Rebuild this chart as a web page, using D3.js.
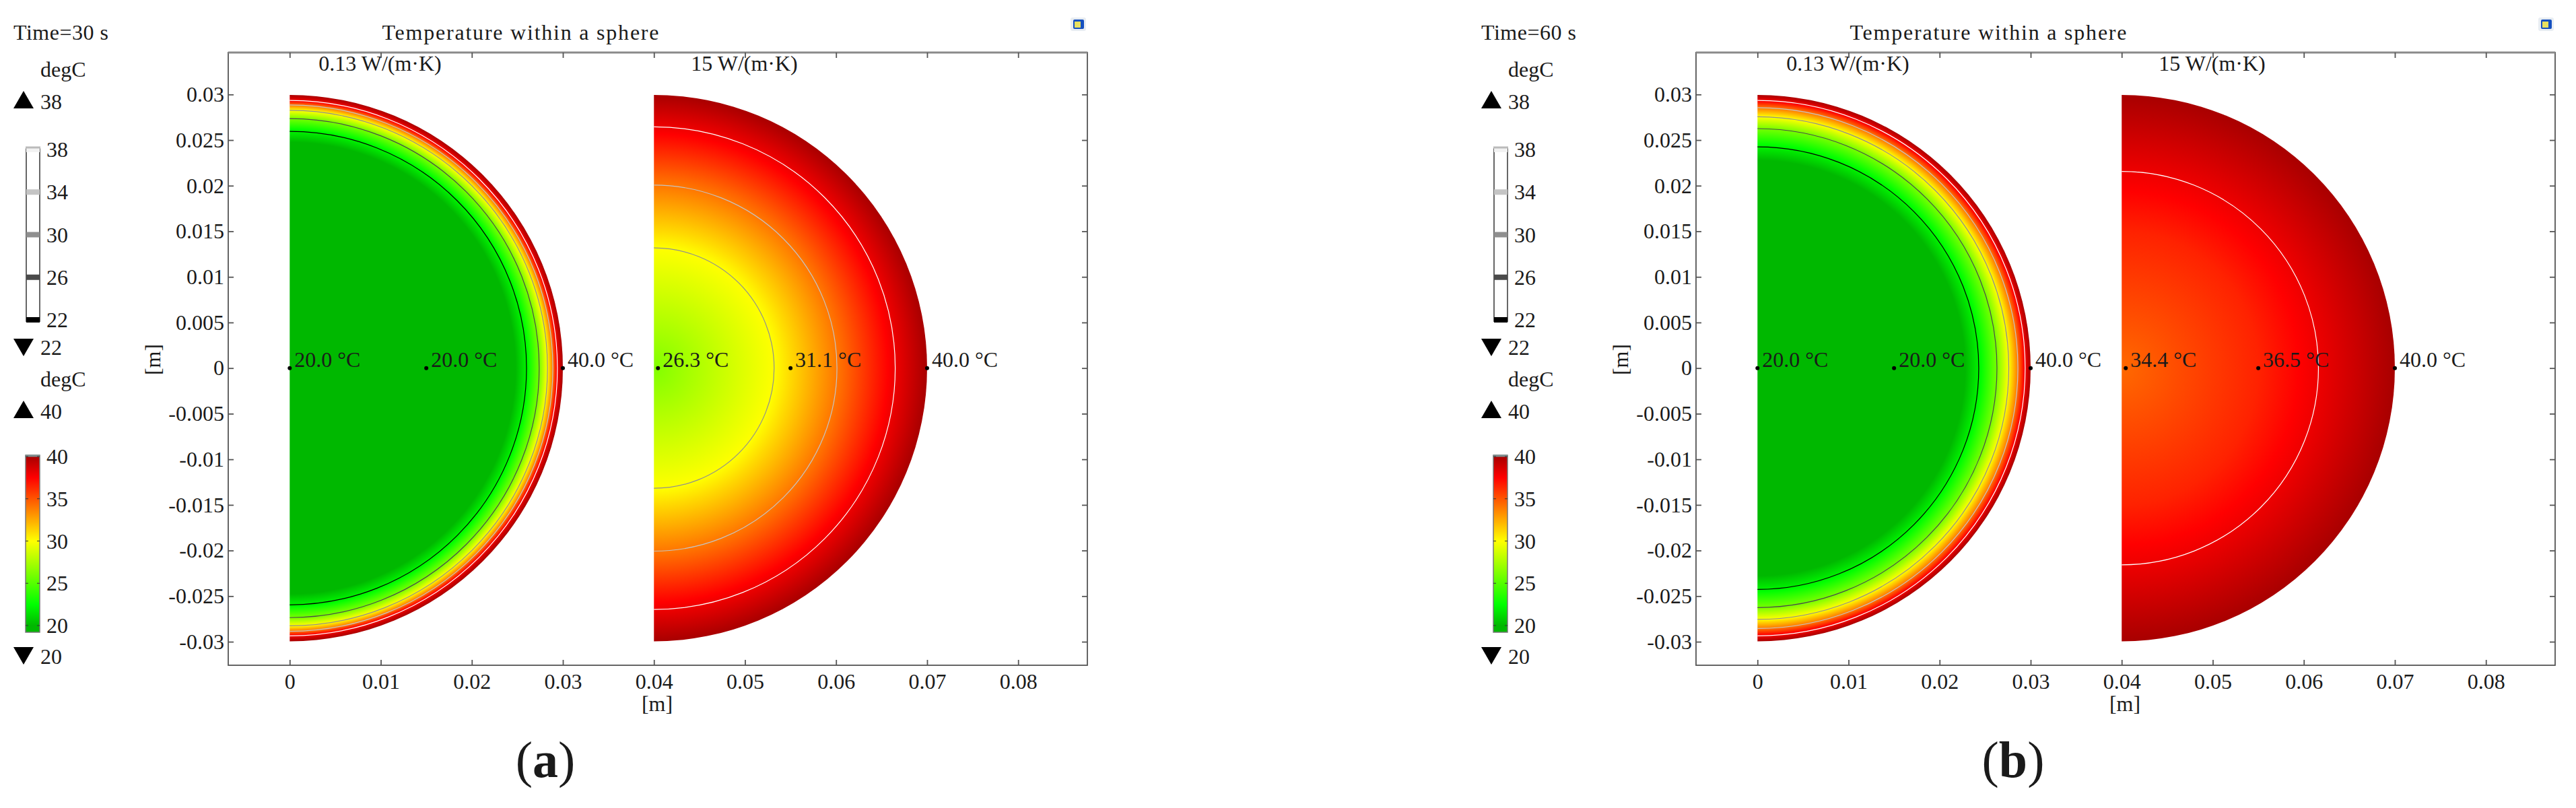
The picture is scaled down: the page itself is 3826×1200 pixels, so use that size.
<!DOCTYPE html>
<html><head><meta charset="utf-8">
<script src="https://cdn.jsdelivr.net/npm/d3@7/dist/d3.min.js"></script>
<style>html,body{margin:0;background:#fff}text{font-family:"Liberation Serif",serif;fill:#1a1a1a}</style>
</head><body><svg id="c" width="3826" height="1200"></svg>
<script>
// ---- data ----
const xTicks = [0,0.01,0.02,0.03,0.04,0.05,0.06,0.07,0.08];
const yTicks = [-0.03,-0.025,-0.02,-0.015,-0.01,-0.005,0,0.005,0.01,0.015,0.02,0.025,0.03];
const panelNames = ["a","b"];
const panelTimes = ["Time=30 s","Time=60 s"];
const materialLabels = ["0.13 W/(m·K)","15 W/(m·K)"];
const sphereCentres = [0,0.04];
const sphereRadius = 0.03;
const contourLevels = [22,26,30,34,38];
const contourColours = ["#000000","#4a4a4a","#8f8f8f","#c4c4c4","#ffffff"];
const colourLevels = [20,22.5,30,37.5,40];
const colourValues = ["#00b800","#00ff00","#ffff00","#ff0000","#a80000"];
const colourbarTicks = [20,25,30,35,40];
const probeRadii = [0,0.015,0.03];
const probeLabels = [
  [["20.0 °C","20.0 °C","40.0 °C"],["26.3 °C","31.1 °C","40.0 °C"]],
  [["20.0 °C","20.0 °C","40.0 °C"],["34.4 °C","36.5 °C","40.0 °C"]]];
// radial temperature profiles [radius, temperature]
const profileA1 = [[0,20],[0.0248,20],[0.0260,22],[0.0274,26],[0.0283,30],[0.0289,34],[0.0294,38],[0.03,40]];
const profileA2 = [[0,26.3],[0.0132,30],[0.015,31.1],[0.0201,34],[0.0265,38],[0.03,40]];
const profileB1 = [[0,20],[0.0228,20],[0.0243,22],[0.0263,26],[0.0276,30],[0.0286,34],[0.0294,38],[0.03,40]];
const profileB2 = [[0,34.4],[0.015,36.5],[0.0216,38],[0.03,40]];
const profiles = [[profileA1,profileA2],[profileB1,profileB2]];

// ---- layout ----
const svg = d3.select("#c");
const defs = svg.append("defs");
const FS = 32, L = 339, R = 1615, T = 78, B = 988, PANEL_DX = 2180;
const x = d3.scaleLinear().domain([-0.00675,0.0876]).range([L,R]);
const y = d3.scaleLinear().domain([0.0346,-0.03258]).range([T,B]);
const pxPerM = x(1)-x(0);
const colour = d3.scaleLinear().domain(colourLevels).range(colourValues).interpolate(d3.interpolateRgb);
const fmt = d => d===0 ? "0" : String(d);

function triangle(g,cx,cyTop,up){
  const w=15,h=26;
  g.append("path").attr("d", up
    ? `M${cx-w},${cyTop+h}L${cx+w},${cyTop+h}L${cx},${cyTop}Z`
    : `M${cx-w},${cyTop}L${cx+w},${cyTop}L${cx},${cyTop+h}Z`).attr("fill","#000");
}
function txt(g,s,xp,yp,anchor,size){
  return g.append("text").attr("x",xp).attr("y",yp).attr("text-anchor",anchor||"start")
    .attr("font-size",size||FS).text(s);
}

panelNames.forEach((name,pi)=>{
  const g = svg.append("g").attr("transform",`translate(${pi*PANEL_DX},0)`);
  txt(g,panelTimes[pi],20,59).attr("textLength",141);
  txt(g,"Temperature within a sphere",773,59,"middle").attr("textLength",411);

  // contour legend
  txt(g,"degC",60,114);
  triangle(g,35,135,true);  txt(g,"38",60,162);
  const lg = d3.scaleLinear().domain([22,38]).range([475,222]);
  g.append("rect").attr("x",39).attr("y",219).attr("width",20).attr("height",258)
    .attr("fill","#fff").attr("stroke","#666").attr("stroke-width",2);
  contourLevels.forEach((v,i)=>{
    g.append("rect").attr("x",39).attr("width",20).attr("y",lg(v)-4).attr("height",8)
      .attr("fill",contourColours[i]==="#ffffff"?"#f2f2f2":contourColours[i]);
    txt(g,v,69,lg(v)+11);
  });
  g.append("rect").attr("x",38).attr("y",217.5).attr("width",22).attr("height",3).attr("fill","#bbb");
  triangle(g,35,503,false); txt(g,"22",60,527);

  // colour legend
  txt(g,"degC",60,574);
  triangle(g,35,595,true);  txt(g,"40",60,622);
  const cb = d3.scaleLinear().domain([20,40]).range([929,678]);
  const gid = "cb"+pi;
  const lgd = defs.append("linearGradient").attr("id",gid).attr("gradientUnits","userSpaceOnUse")
    .attr("x1",0).attr("x2",0).attr("y1",cb(20)).attr("y2",cb(40));
  colourLevels.forEach((v,i)=>lgd.append("stop").attr("offset",(v-20)/20).attr("stop-color",colourValues[i]));
  g.append("rect").attr("x",38).attr("y",676).attr("width",21).attr("height",263).attr("fill",`url(#${gid})`)
    .attr("stroke","#777").attr("stroke-width",1.5);
  g.append("rect").attr("x",38).attr("y",675.5).attr("width",21).attr("height",3).attr("fill","#7f8f8f");
  colourbarTicks.forEach(v=>{
    g.append("line").attr("x1",38).attr("x2",42).attr("y1",cb(v)).attr("y2",cb(v)).attr("stroke","#333");
    g.append("line").attr("x1",55).attr("x2",59).attr("y1",cb(v)).attr("y2",cb(v)).attr("stroke","#333");
    txt(g,v,69,cb(v)+11);
  });
  triangle(g,35,961,false); txt(g,"20",60,986);

  // spheres
  sphereCentres.forEach((c,si)=>{
    const prof = profiles[pi][si];
    const cx = x(c), cy = y(0), Rpx = sphereRadius*pxPerM;
    const tMin = prof[0][1];
    const usable = tMin===20 ? prof.slice(1) : prof;
    const invert = d3.scaleLinear().domain(usable.map(d=>d[1])).range(usable.map(d=>d[0]));
    const stops = prof.map(d=>({r:d[0],t:d[1]}));
    colourLevels.filter(v=>v>tMin && v<40).forEach(v=>stops.push({r:invert(v),t:v}));
    stops.sort((a,b)=>a.r-b.r);
    const id=`s${pi}${si}`;
    const rg = defs.append("radialGradient").attr("id",id).attr("gradientUnits","userSpaceOnUse")
      .attr("cx",0).attr("cy",0).attr("r",Rpx);
    stops.forEach(s=>rg.append("stop").attr("offset",s.r/sphereRadius).attr("stop-color",colour(s.t)));
    const arc = d3.arc().innerRadius(0).startAngle(0).endAngle(Math.PI);
    g.append("path").attr("transform",`translate(${cx},${cy})`)
      .attr("d",arc({outerRadius:Rpx})).attr("fill",`url(#${id})`);
    contourLevels.forEach((lvl,i)=>{
      if(lvl<=tMin) return;
      const r = prof.find(d=>d[1]===lvl)[0]*pxPerM;
      g.append("path").attr("transform",`translate(${cx},${cy})`)
        .attr("d",d3.arc().innerRadius(r).outerRadius(r).startAngle(0).endAngle(Math.PI)())
        .attr("fill","none").attr("stroke",contourColours[i]).attr("stroke-width",1.2);
    });
    probeRadii.forEach((pr,k)=>{
      const px = x(c+pr);
      g.append("circle").attr("cx",px+(k===0&&si===1?6:0)).attr("cy",cy).attr("r",3).attr("fill","#000");
      txt(g,probeLabels[pi][si][k],px+(k===0&&si===1?13:7),cy-2).attr("fill","#111");
    });
    txt(g,materialLabels[si],si===0?564.5:1105.5,105,"middle");
  });

  // frame + ticks
  const axG = g.append("g");
  const axCol="#555";
  axG.append("rect").attr("x",L).attr("y",T).attr("width",R-L).attr("height",B-T)
    .attr("fill","none").attr("stroke",axCol).attr("stroke-width",1.8);
  axG.append("line").attr("x1",L).attr("x2",R).attr("y1",T).attr("y2",T).attr("stroke","#8a8a8a").attr("stroke-width",3);
  const bottom = d3.axisBottom(x).tickValues(xTicks).tickFormat(fmt).tickSizeInner(-8).tickSizeOuter(0).tickPadding(12);
  const left = d3.axisLeft(y).tickValues(yTicks).tickFormat(fmt).tickSizeInner(-8).tickSizeOuter(0).tickPadding(6);
  const top = d3.axisTop(x).tickValues(xTicks).tickFormat("").tickSizeInner(-8).tickSizeOuter(0);
  const right = d3.axisRight(y).tickValues(yTicks).tickFormat("").tickSizeInner(-8).tickSizeOuter(0);
  [[bottom,`translate(0,${B})`],[left,`translate(${L},0)`],[top,`translate(0,${T})`],[right,`translate(${R},0)`]].forEach(([a,t])=>{
    const ag = axG.append("g").attr("transform",t).call(a);
    ag.select(".domain").remove();
    ag.selectAll("line").attr("stroke",axCol).attr("stroke-width",1.8);
    ag.selectAll("text").attr("font-size",FS).attr("font-family","Liberation Serif").attr("fill","#1a1a1a");
  });
  txt(g,"[m]",976,1056,"middle");
  g.append("text").attr("transform","translate(238,534) rotate(-90)").attr("text-anchor","middle").attr("font-size",FS).text("[m]");

  // panel letter
  const pl = g.append("text").attr("x",810).attr("y",1154).attr("text-anchor","middle").attr("font-size",76);
  pl.append("tspan").text("(");
  pl.append("tspan").attr("font-weight","bold").text(name);
  pl.append("tspan").text(")");

  // toolbar icon
  g.append("rect").attr("x",1590).attr("y",26).attr("width",23).attr("height",20).attr("rx",3).attr("fill","#e8edf2");
  g.append("rect").attr("x",1594).attr("y",29).attr("width",16).attr("height",14).attr("rx",2).attr("fill","#1550c0");
  g.append("rect").attr("x",1596).attr("y",32).attr("width",9).attr("height",9).attr("fill","#e8e060");
});
</script></body></html>
